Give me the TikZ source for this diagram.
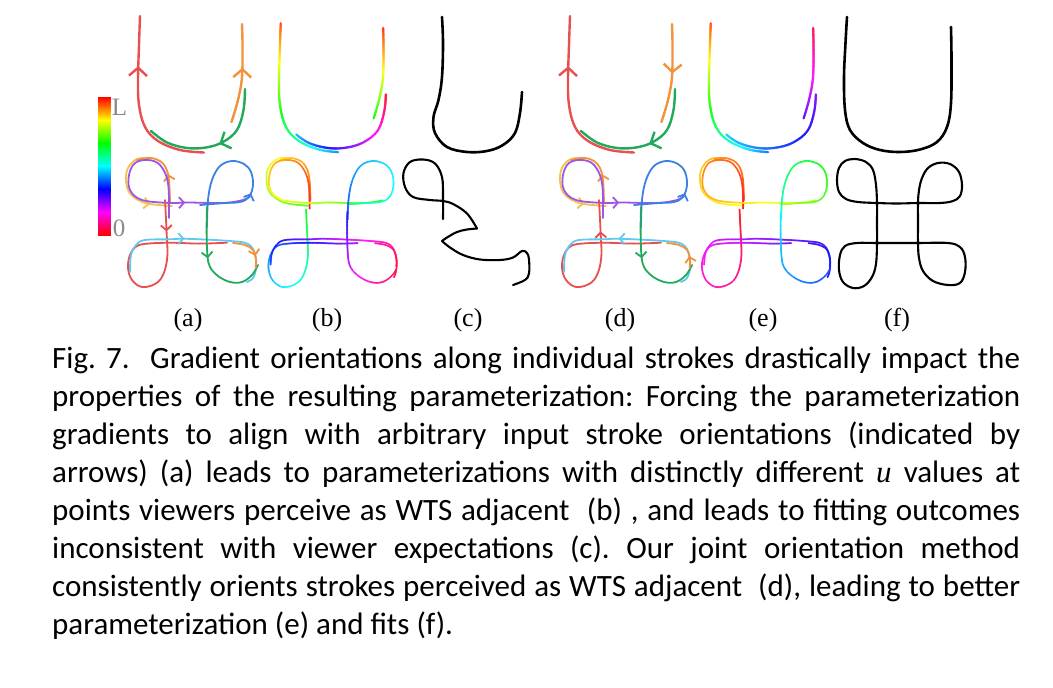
\documentclass[tikz,border=0pt]{standalone}
\usepackage{fontspec}
\newfontfamily\capfont{Carlito}
\newfontfamily\labfont{Liberation Serif}
\usetikzlibrary{arrows.meta,decorations.markings}

\definecolor{redS}{HTML}{E8504F}
\definecolor{orangeS}{HTML}{F2923C}
\definecolor{greenS}{HTML}{22A95B}
\definecolor{purpleS}{HTML}{9D55E8}
\definecolor{yellowS}{HTML}{F5C14A}
\definecolor{cyanS}{HTML}{60C9F2}
\definecolor{blueS}{HTML}{3A80E6}
\definecolor{tickgray}{HTML}{8A8A8A}
\newcount\hstep

% input strokes of the U, in the coordinates of panel (a)
\newcommand\uRed[1]{\path[#1] plot[smooth,tension=0.6] coordinates {(204,152.5) (180,150) (158,141) (145,127) (139,105) (138,80) (139,45) (140,16)};}
\newcommand\uOrange[1]{\path[#1] plot[smooth,tension=0.6] coordinates {(231.5,122) (238,100) (242,77) (242.5,45) (242,24)};}
\newcommand\uGreen[1]{\path[#1] plot[smooth,tension=0.6] coordinates {(245,89) (243.5,110) (237,130) (223,142) (206,147.5) (187,148) (167,142.5) (151,131)};}
% input strokes of the four loops
\newcommand\kPurple[1]{\path[#1] plot[smooth,tension=0.6] coordinates {(169,218) (168,183) (160,165) (148,160) (135,163) (129,175) (130,190) (142,200) (170,203) (188,202.5) (223,203) (243,200) (250,196)};}
\newcommand\kYellow[1]{\path[#1] plot[smooth,tension=0.6] coordinates {(152,158) (137,159) (128,168) (126,180) (129,192) (138,200) (150,204) (172,206)};}
\newcommand\kOrange[1]{\path[#1] plot[smooth,tension=0.6] coordinates {(170,203) (169,180) (166,168) (160,161) (150,158) (137,160)};}
\newcommand\kRed[1]{\path[#1] plot[smooth,tension=0.6] coordinates {(165,200) (166.5,230) (167.3,257) (163,275) (155,284) (142,287) (132,280) (128,268) (130,255) (137,246) (150,243.4) (173,242.8) (200,243.6) (227,242.7)};}
\newcommand\kCyan[1]{\path[#1] plot[smooth,tension=0.6] coordinates {(130,272) (131,255) (136,245) (145,240) (170,239.3) (187,238.8) (230,241) (248,244) (255,254) (256,268) (253,278) (247,282)};}
\newcommand\kBlue[1]{\path[#1] plot[smooth,tension=0.6] coordinates {(200,205) (225,203) (240,202) (249,197) (253,185) (251,172) (244,164) (232,161) (220,166) (212,180) (208,200) (207,227)};}
\newcommand\kGreen[1]{\path[#1] plot[smooth,tension=0.6] coordinates {(207,207) (206.6,230) (207.4,255) (210,267) (218,276) (230,282) (242,282) (252,275) (258,265)};}
\newcommand\kOrangeB[1]{\path[#1] plot[smooth,tension=0.6] coordinates {(233,243) (245,245) (253,250) (256,260) (255.6,268)};}

\begin{document}
\begin{tikzpicture}[x=1pt,y=-1pt,line cap=round,line join=round]
  \tikzstyle{lab} = [inner sep=0pt,font=\labfont\fontsize{26}{26}\selectfont]
  \tikzstyle{tick} = [inner sep=0pt,text=tickgray,font=\labfont\fontsize{25}{25}\selectfont]
  \tikzstyle{ufit} = [draw=black,line width=2.6pt]
  \tikzstyle{kfit} = [draw=black,line width=2.1pt]
  \tikzset{
    tipfwd/.style={postaction={decorate},decoration={markings,mark=at position #1 with {\arrow{>}}}},
    tipback/.style={postaction={decorate},decoration={markings,mark=at position #1 with {\arrowreversed{>}}}},
    huestroke/.style n args={3}{/utils/exec={\global\hstep=0},postaction={decorate},decoration={markings,
      mark=between positions 0.04 and 0.96 step 0.8pt with {%
        \global\advance\hstep by 1
        \pgfmathsetmacro\hfrac{min(1,\the\hstep*0.8/\pgfdecoratedpathlength)}%
        \pgfmathsetmacro\hv{max(0,min(359.9,#1+(#2-#1)*\hfrac))}%
        \definecolor{hc}{Hsb}{\hv,0.9,1}%
        \fill[hc] (0,0) circle (#3);}}},
    ubig/.style={line width=2.4pt,>={Straight Barb[length=8pt,width=18pt]}},
    ksmall/.style={line width=1.8pt,>={Straight Barb[length=5pt,width=11pt]}}
  }
  \useasboundingbox (0,0) rectangle (1053,688);

  % colour bar
  \foreach \i in {0,...,138} {
    \pgfmathsetmacro\bh{min(359.9,2.6087*\i)}
    \definecolor{barc}{Hsb}{\bh,1,1}
    \fill[barc] (98,97+\i) rectangle (111,98.3+\i);
  }
  \node[tick] (tL) at (119.5,107) {L};
  \node[tick] (t0) at (119,228) {0};

  % (a) input orientations
  \begin{scope}[ubig]
    \uRed{draw=redS,tipfwd=0.72}
    \uOrange{draw=orangeS,tipfwd=0.56}
    \uGreen{draw=greenS,tipfwd=0.47}
  \end{scope}
  \begin{scope}[ksmall]
    \kYellow{draw=yellowS,tipfwd=0.78}
    \kOrange{draw=orangeS,tipfwd=0.42}
    \kPurple{draw=purpleS,tipfwd=0.72}
    \kRed{draw=redS,tipfwd=0.13}
    \kCyan{draw=cyanS,tipfwd=0.42}
    \kBlue{draw=blueS,tipfwd=0.31}
    \kGreen{draw=greenS,tipfwd=0.42}
    \kOrangeB{draw=orangeS,tipfwd=0.7}
  \end{scope}

  % (b) parameterization from input orientations
  \begin{scope}[xshift=141pt]
    \uRed{huestroke={210}{0}{1.3pt}}
    \uOrange{huestroke={120}{0}{1.3pt}}
    \uGreen{huestroke={355}{185}{1.3pt}}
  \end{scope}
  \begin{scope}[xshift=140.5pt]
    \kYellow{huestroke={55}{110}{1pt}}
    \kOrange{huestroke={15}{55}{1pt}}
    \kPurple{huestroke={0}{125}{1pt}}
    \kRed{huestroke={120}{290}{1pt}}
    \kCyan{huestroke={225}{355}{1pt}}
    \kBlue{huestroke={150}{235}{1pt}}
    \kGreen{huestroke={235}{355}{1pt}}
    \kOrangeB{huestroke={320}{350}{1pt}}
  \end{scope}

  % (c) fit
  \path[ufit] plot[smooth,tension=0.6] coordinates {(442,17) (443,43) (442,77) (438.5,100) (433.5,117) (435,133) (447,147) (467,152) (487,151) (503,145) (515,133) (520,113) (522,92)};
  \path[kfit] plot[smooth,tension=0.6] coordinates {(443,219) (443,197) (442,177) (435,163.5) (423,159.5) (410,162) (403.5,173) (405,187) (413,197) (430,200) (443,201) (453,204) (467,213.5) (477,228.5)};
  \path[kfit] plot[smooth,tension=0.6] coordinates {(477,228.5) (467,229.5) (457,232) (447,237.5) (442,241)};
  \path[kfit] plot[smooth,tension=0.6] coordinates {(442,241) (450,247.5) (463,255) (480,259.5) (500,260) (513,257.5) (522,251) (527,253) (529,259.5) (529,273.5) (525,280) (513,285)};

  % (d) joint orientations
  \begin{scope}[xshift=430pt,ubig]
    \uRed{draw=redS,tipfwd=0.72}
    \uOrange{draw=orangeS,tipback=0.5}
    \uGreen{draw=greenS,tipfwd=0.47}
  \end{scope}
  \begin{scope}[xshift=434pt,ksmall]
    \kYellow{draw=yellowS,tipfwd=0.78}
    \kOrange{draw=orangeS,tipfwd=0.42}
    \kPurple{draw=purpleS,tipfwd=0.72}
    \kRed{draw=redS,tipback=0.13}
    \kCyan{draw=cyanS,tipback=0.42}
    \kBlue{draw=blueS,tipfwd=0.31}
    \kGreen{draw=greenS,tipfwd=0.42}
    \kOrangeB{draw=orangeS,tipback=0.7}
  \end{scope}

  % (e) parameterization from joint orientations
  \begin{scope}[xshift=571pt]
    \uRed{huestroke={215}{0}{1.3pt}}
    \uOrange{huestroke={258}{352}{1.3pt}}
    \uGreen{huestroke={268}{185}{1.3pt}}
  \end{scope}
  \begin{scope}[xshift=574pt]
    \kYellow{huestroke={40}{62}{1pt}}
    \kOrange{huestroke={10}{35}{1pt}}
    \kPurple{huestroke={0}{85}{1pt}}
    \kRed{huestroke={359}{255}{1pt}}
    \kCyan{huestroke={300}{232}{1pt}}
    \kBlue{huestroke={80}{175}{1pt}}
    \kGreen{huestroke={180}{230}{1pt}}
    \kOrangeB{huestroke={250}{235}{1pt}}
  \end{scope}

  % (f) fit
  \path[ufit] plot[smooth,tension=0.6] coordinates {(847,17) (845.5,43) (844,77) (845,110) (850,130) (863,143) (880,150) (900,152) (920,149.5) (937,142) (947,127) (951,103) (951.5,60) (951,27)};
  \path[kfit] plot[smooth cycle,tension=0.6] coordinates {(877,223) (877,203) (876,185) (873,170) (866,162) (855,159) (845,161) (839,168) (837,180) (839,192) (846,199) (858,202) (877,203) (897,203.5) (918,203) (940,203) (953,201) (960,196) (962,185) (959,172) (950,164) (938,163) (928,168) (922,178) (919,190) (918,203) (918,223) (918,243) (919,258) (923,271) (933,281) (948,285) (960,283) (965,272) (965,257) (960,247) (948,243) (918,243) (897,243) (877,243) (857,243) (845,246) (840,255) (839,270) (843,282) (853,288) (864,286) (872,277) (876,264) (877,243)};

  % sub-figure labels
  \node[lab] (la) at (188,320) {(a)};
  \node[lab] (lb) at (327,320) {(b)};
  \node[lab] (lc) at (468,320) {(c)};
  \node[lab] (ld) at (620,320) {(d)};
  \node[lab] (le) at (763,320) {(e)};
  \node[lab] (lf) at (897,320) {(f)};

  % caption
  \node[anchor=base west,inner sep=0pt,text width=968pt,align=justify,
        font=\capfont\fontsize{31}{38}\selectfont\frenchspacing] (cap) at (52,368)
    {Fig.~7.\ \ Gradient orientations along individual strokes drastically impact the\linebreak
     properties of the resulting parameterization: Forcing the parameterization\linebreak
     gradients to align with arbitrary input stroke orientations (indicated by\linebreak
     arrows) (a) leads to parameterizations with distinctly different {\labfont\itshape u} values at\linebreak
     points viewers perceive as WTS adjacent\ \ (b) , and leads to fitting outcomes\linebreak
     inconsistent with viewer expectations (c). Our joint orientation method\linebreak
     consistently orients strokes perceived as WTS adjacent\ \ (d), leading to better\linebreak
     parameterization (e) and fits (f).};
\end{tikzpicture}
\end{document}
